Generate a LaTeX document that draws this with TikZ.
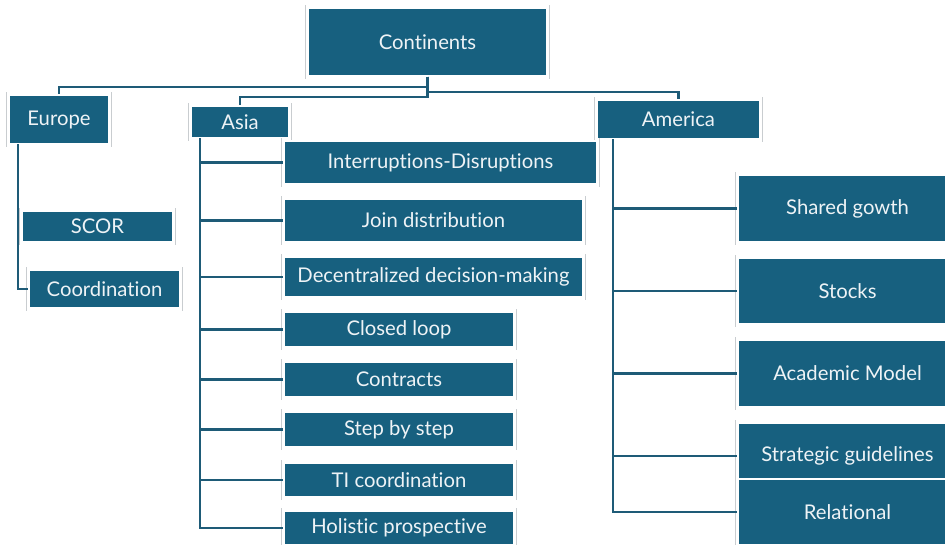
\documentclass[tikz,border=0pt]{standalone}
\usepackage{fontspec}
\setmainfont{Lato}[Ligatures={NoCommon,NoContextual}]
\definecolor{boxfill}{HTML}{17607F}
\definecolor{boxtext}{HTML}{EEF3F6}
\definecolor{linkcol}{HTML}{1E5B77}
\definecolor{edgecol}{HTML}{C9CDD0}

\tikzset{
  blk/.style={rectangle, fill=boxfill, draw=white, line width=1pt,
    text=boxtext, inner sep=0pt, font=\fontsize{15.2}{18}\selectfont},
  link/.style={draw=linkcol, line width=1.6pt},
  rim/.style={draw=edgecol, line width=0.7pt},
}

% \mkbox{name}{left}{top}{right}{bottom}{text}, positions in pixels
\newcommand\mkbox[6]{%
  \node[blk, minimum width={(#4-#2)*0.75pt}, minimum height={(#5-#3)*0.75pt}]
    (#1) at ({(#2+#4)/2},{(#3+#5)/2}) {#6};
  \draw[rim] ([xshift=-1.2pt,yshift=-1.5pt]#1.south west) -- ([xshift=-1.2pt,yshift=1.5pt]#1.north west);
  \draw[rim] ([xshift=1.2pt,yshift=-1.5pt]#1.south east) -- ([xshift=1.2pt,yshift=1.5pt]#1.north east);
}

\begin{document}
\begin{tikzpicture}[x=0.75pt, y=-0.75pt]
\useasboundingbox (0,0) rectangle (945,544);
\fill[white] (0,0) rectangle (945,544);

% root and the three continents
\mkbox{cont}{308}{8}{547}{76}{Continents}
\mkbox{eu}{9}{95}{109}{144}{Europe\hspace{6pt}}
\mkbox{as}{191}{106}{289}{138}{Asia}
\mkbox{am}{597}{100}{760}{139}{America}

% Europe
\mkbox{scor}{22}{211}{173}{242}{SCOR}
\mkbox{coord}{29}{270}{180}{308}{Coordination}

% Asia
\mkbox{intr}{284}{141}{597}{184}{Interruptions-Disruptions}
\mkbox{join}{284}{199}{583}{242}{Join distribution}
\mkbox{dec}{284}{257}{583}{297}{Decentralized decision-making}
\mkbox{closed}{284}{312}{514}{347}{Closed loop}
\mkbox{contr}{284}{362}{514}{397}{Contracts}
\mkbox{stepbs}{284}{412}{514}{447}{Step by step}
\mkbox{ti}{284}{463}{514}{497}{TI coordination}
\mkbox{holi}{284}{511}{514}{545}{Holistic prospective}

% America
\mkbox{shared}{738}{175}{957}{242}{Shared gowth}
\mkbox{stocks}{738}{258}{957}{324}{Stocks}
\mkbox{acad}{738}{340}{957}{407}{Academic Model}
\mkbox{strat}{738}{423}{957}{489}{Strategic guidelines}
\mkbox{relat}{738}{479}{957}{545}{Relational}

% bus lines below the root
\coordinate (busEu) at (0,87);
\coordinate (busAm) at (0,92);
\coordinate (busAs) at (0,97);
\draw[link] (cont.south) |- (eu.north |- busEu) -- (eu.north);
\draw[link] (cont.south) |- (am.north |- busAm) -- (am.north);
\draw[link] (cont.south) |- (as.north |- busAs) -- (as.north);

% Europe spine
\coordinate (euSpine) at (18,144);
\draw[link] (euSpine) |- (coord.west);

% Asia spine
\coordinate (asSpine) at (200,138);
\draw[link] (asSpine) |- (holi.west);
\foreach \n in {intr,join,dec,closed,contr,stepbs,ti}
  \draw[link] (asSpine |- \n.west) -- (\n.west);

% America spine
\coordinate (amSpine) at (613,139);
\draw[link] (amSpine) |- (relat.west);
\foreach \n in {shared,stocks,acad,strat}
  \draw[link] (amSpine |- \n.west) -- (\n.west);
\end{tikzpicture}
\end{document}
